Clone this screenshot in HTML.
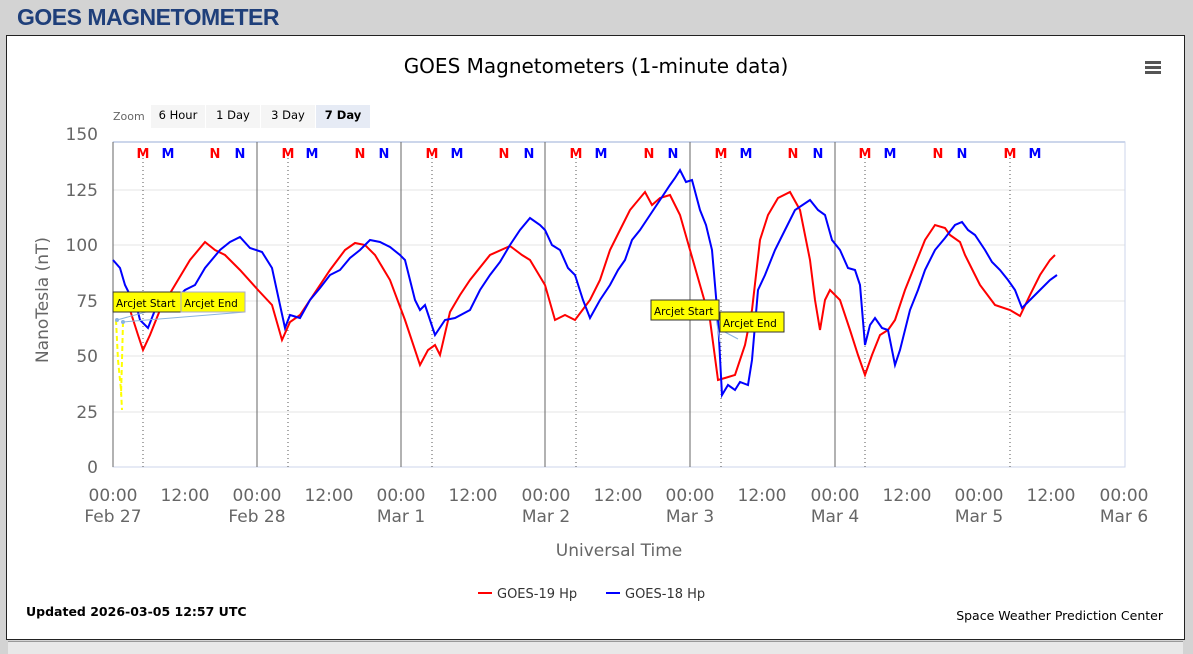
<!DOCTYPE html>
<html><head><style>
body{margin:0;width:1193px;height:650px;background:#d3d3d3;font-family:"Liberation Sans",sans-serif;overflow:hidden;position:relative}
.h{position:absolute;left:17px;top:4px;font-size:23px;font-weight:bold;color:#1f3f7a;letter-spacing:-0.5px}
.box{position:absolute;left:6px;top:35px;width:1177px;height:603px;background:#fff;border:1px solid #222}
.tabs{position:absolute;left:8px;top:641px;width:1175px;height:12px;border-top:1px solid #999;background:#e8e8e8}
</style></head><body>
<div class="h">GOES MAGNETOMETER</div>
<div class="box"></div>
<div class="tabs"></div>
<svg width="1193" height="640" style="position:absolute;left:0;top:0" font-family="DejaVu Sans, sans-serif">
<text x="596" y="73" font-size="20" text-anchor="middle" fill="#000">GOES Magnetometers (1-minute data)</text>
<g fill="#555"><rect x="1145" y="61" width="16" height="3"/><rect x="1145" y="66" width="16" height="3"/><rect x="1145" y="71" width="16" height="3"/></g>
<text x="113" y="120" font-size="11" fill="#666">Zoom</text>
<rect x="151" y="105" width="54" height="23" fill="#f5f5f5"/><text x="178" y="119" font-size="11.5" text-anchor="middle">6 Hour</text>
<rect x="206" y="105" width="54" height="23" fill="#f5f5f5"/><text x="233" y="119" font-size="11.5" text-anchor="middle">1 Day</text>
<rect x="261" y="105" width="54" height="23" fill="#f5f5f5"/><text x="288" y="119" font-size="11.5" text-anchor="middle">3 Day</text>
<rect x="316" y="105" width="54" height="23" fill="#e6ebf5"/><text x="343" y="119" font-size="11.5" font-weight="bold" text-anchor="middle">7 Day</text>
<g stroke="#e6e6e6"><line x1="113" x2="1125" y1="412" y2="412"/><line x1="113" x2="1125" y1="356" y2="356"/><line x1="113" x2="1125" y1="301" y2="301"/><line x1="113" x2="1125" y1="245" y2="245"/><line x1="113" x2="1125" y1="190" y2="190"/></g>
<rect x="113" y="142" width="1012" height="325" fill="none" stroke="#ccd6eb"/>
<line x1="113" x2="1125" y1="142" y2="142" stroke="#ccd6eb" stroke-width="2"/>
<g font-size="17" fill="#666" text-anchor="end"><text x="98" y="473">0</text><text x="98" y="418">25</text><text x="98" y="362">50</text><text x="98" y="307">75</text><text x="98" y="251">100</text><text x="98" y="196">125</text><text x="98" y="140">150</text></g>
<text x="48" y="300" font-size="17" fill="#666" text-anchor="middle" transform="rotate(-90 48 300)">NanoTesla (nT)</text>
<g stroke="#666"><line x1="113" x2="113" y1="142" y2="467"/><line x1="257" x2="257" y1="142" y2="467"/><line x1="401" x2="401" y1="142" y2="467"/><line x1="545" x2="545" y1="142" y2="467"/><line x1="690" x2="690" y1="142" y2="467"/><line x1="835" x2="835" y1="142" y2="467"/></g>
<g stroke="#555" stroke-dasharray="1,3"><line x1="143" x2="143" y1="158" y2="467"/><line x1="288" x2="288" y1="158" y2="467"/><line x1="432" x2="432" y1="158" y2="467"/><line x1="576" x2="576" y1="158" y2="467"/><line x1="721" x2="721" y1="158" y2="467"/><line x1="865" x2="865" y1="158" y2="467"/><line x1="1010" x2="1010" y1="158" y2="467"/></g>
<g font-size="13" font-weight="bold" text-anchor="middle">
<g fill="#f00"><text x="143" y="158">M</text><text x="288" y="158">M</text><text x="432" y="158">M</text><text x="576" y="158">M</text><text x="721" y="158">M</text><text x="865" y="158">M</text><text x="1010" y="158">M</text>
<text x="215" y="158">N</text><text x="360" y="158">N</text><text x="504" y="158">N</text><text x="649" y="158">N</text><text x="793" y="158">N</text><text x="938" y="158">N</text></g>
<g fill="#00f"><text x="168" y="158">M</text><text x="312" y="158">M</text><text x="457" y="158">M</text><text x="601" y="158">M</text><text x="746" y="158">M</text><text x="890" y="158">M</text><text x="1035" y="158">M</text>
<text x="240" y="158">N</text><text x="384" y="158">N</text><text x="529" y="158">N</text><text x="673" y="158">N</text><text x="818" y="158">N</text><text x="962" y="158">N</text></g></g>
<g font-size="17" fill="#666" text-anchor="middle">
<text x="113" y="501">00:00</text><text x="113" y="522">Feb 27</text>
<text x="185" y="501">12:00</text>
<text x="257" y="501">00:00</text><text x="257" y="522">Feb 28</text>
<text x="329" y="501">12:00</text>
<text x="401" y="501">00:00</text><text x="401" y="522">Mar 1</text>
<text x="473" y="501">12:00</text>
<text x="546" y="501">00:00</text><text x="546" y="522">Mar 2</text>
<text x="618" y="501">12:00</text>
<text x="690" y="501">00:00</text><text x="690" y="522">Mar 3</text>
<text x="762" y="501">12:00</text>
<text x="835" y="501">00:00</text><text x="835" y="522">Mar 4</text>
<text x="907" y="501">12:00</text>
<text x="979" y="501">00:00</text><text x="979" y="522">Mar 5</text>
<text x="1051" y="501">12:00</text>
<text x="1124" y="501">00:00</text><text x="1124" y="522">Mar 6</text>
<text x="619" y="556">Universal Time</text></g>
<polyline fill="none" stroke="#ff0" stroke-width="2" stroke-dasharray="5,3" points="116,320 118,360 121,390 122,410"/>
<polyline fill="none" stroke="#ff0" stroke-width="2" stroke-dasharray="5,3" points="123,322 122,360 121,395"/>
<polyline fill="none" stroke="#f00" stroke-width="2" points="122,300 130,310 138,335 143,350 150,335 160,310 175,285 190,260 205,242 215,250 225,255 240,270 258,290 272,305 282,340 290,322 300,315 310,300 320,285 330,270 345,250 355,243 365,245 375,255 390,280 405,320 420,365 428,350 435,345 440,355 450,312 460,295 470,280 490,255 510,246 522,255 530,260 545,285 555,320 565,315 575,320 590,300 600,280 610,250 620,230 630,210 645,192 652,205 660,198 670,195 680,215 690,250 700,285 710,320 718,380 725,378 735,375 745,345 752,310 760,240 768,215 778,198 790,192 800,210 810,260 815,300 820,330 825,300 830,290 840,300 850,330 858,355 865,375 872,355 880,335 888,330 895,320 905,290 915,265 925,240 935,225 945,228 950,235 960,242 965,255 975,275 980,285 995,305 1010,310 1020,316 1030,295 1040,275 1050,260 1055,255"/>
<polyline fill="none" stroke="#00f" stroke-width="2" points="113,260 120,268 125,285 130,295 135,300 140,320 148,328 155,310 162,300 175,300 185,290 195,285 205,268 220,250 230,242 240,237 250,248 262,252 272,268 280,305 285,328 290,315 300,318 310,300 320,288 330,275 340,270 350,258 360,250 370,240 380,242 390,247 400,255 405,260 410,280 415,300 420,310 425,305 435,335 445,320 455,318 470,310 480,290 490,275 500,262 510,245 520,230 530,218 540,225 545,230 552,245 560,250 568,268 575,275 583,300 590,318 600,300 610,285 618,270 625,260 632,240 640,230 650,215 660,200 670,185 675,178 680,170 686,182 692,180 700,210 706,225 712,250 718,320 722,395 728,385 735,390 740,382 748,385 752,360 758,290 765,275 775,250 785,230 795,210 810,200 818,210 825,215 832,240 840,250 848,268 855,270 860,285 865,345 870,325 875,318 882,328 888,330 895,365 900,350 910,310 918,290 925,270 935,250 945,238 955,225 962,222 968,230 975,235 985,250 992,262 1000,270 1008,280 1015,290 1022,308 1030,300 1040,290 1050,280 1057,275"/>
<g stroke="#8ab4e0" fill="#8ab4e0"><line x1="117" y1="320" x2="182" y2="302"/><line x1="123" y1="322" x2="245" y2="312"/><circle cx="117" cy="320" r="1.5"/><circle cx="123" cy="322" r="1.5"/>
<line x1="716" y1="318" x2="720" y2="342"/><line x1="721" y1="330" x2="738" y2="339"/></g>
<rect x="113" y="292" width="68" height="20" fill="#ff0" stroke="#333"/><text x="116" y="307" font-size="10.5">Arcjet Start</text>
<rect x="181" y="292" width="64" height="20" fill="#ff0" stroke="#aac"/><text x="184" y="307" font-size="10.5">Arcjet End</text>
<rect x="651" y="300" width="68" height="20" fill="#ff0" stroke="#333"/><text x="654" y="315" font-size="10.5">Arcjet Start</text>
<rect x="720" y="312" width="64" height="20" fill="#ff0" stroke="#333"/><text x="723" y="327" font-size="10.5">Arcjet End</text>
<line x1="478" x2="492" y1="593" y2="593" stroke="#f00" stroke-width="2"/><text x="497" y="598" font-size="13" fill="#333">GOES-19 Hp</text>
<line x1="606" x2="620" y1="593" y2="593" stroke="#00f" stroke-width="2"/><text x="625" y="598" font-size="13" fill="#333">GOES-18 Hp</text>
<text x="26" y="616" font-size="12.5" font-weight="bold">Updated 2026-03-05 12:57 UTC</text>
<text x="1163" y="620" font-size="12.5" text-anchor="end">Space Weather Prediction Center</text>
</svg>
</body></html>
